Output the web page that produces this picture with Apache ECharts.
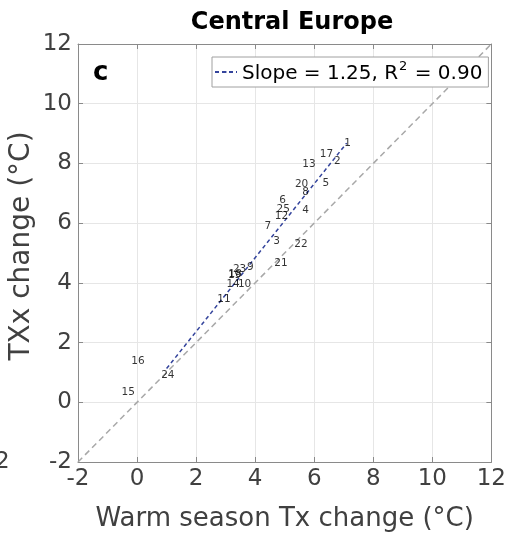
<!DOCTYPE html>
<html>
<head>
<meta charset="utf-8">
<script src="https://cdn.jsdelivr.net/npm/echarts@6/dist/echarts.min.js"></script>
<style>html,body{margin:0;padding:0;background:#fff;}#c{width:509px;height:542px;}</style>
</head>
<body>
<div id="c"></div>
<script>
// Region ids and their values
const regionIds = [1,2,3,4,5,6,7,8,9,10,11,12,13,14,15,16,17,18,19,20,21,22,23,24,25];
const warmTxChange = [7.00,6.65,4.60,5.58,6.26,4.80,4.30,5.58,3.71,3.40,2.70,4.65,5.58,3.01,-0.54,-0.21,6.17,3.08,3.06,5.33,4.63,5.31,3.23,0.80,4.71];
const txxChange    = [8.66,8.08,5.40,6.44,7.34,6.77,5.88,7.04,4.52,3.95,3.46,6.22,7.96,3.95,0.33,1.36,8.32,4.28,4.24,7.31,4.66,5.30,4.46,0.90,6.45];
// Regression line endpoints and 1:1 line endpoints
const fitX = [1.0, 7.1];
const fitY = [1.13, 8.68];
const oneToOneX = [-2, 12];
const oneToOneY = [-2, 12];
const axisTicks = [-2, 0, 2, 4, 6, 8, 10, 12];
const titleText = 'Central Europe';
const xName = 'Warm season Tx change (°C)';
const yName = 'TXx change (°C)';

const FONT = 'DejaVu Sans';
const chart = echarts.init(document.getElementById('c'), null, {renderer: 'canvas'});

const pts = regionIds.map((id, i) => [warmTxChange[i], txxChange[i], id]);
const axisCommon = {
  type: 'value', min: axisTicks[0], max: axisTicks[axisTicks.length-1], interval: 2,
  axisLine: {show: true, onZero: false, lineStyle: {color: '#8a8a8a', width: 1}},
  axisTick: {show: true, inside: true, length: 5, lineStyle: {color: '#8a8a8a'}},
};

chart.setOption({
  animation: false,
  backgroundColor: '#fff',
  title: {
    text: titleText, left: 287, top: 6, textAlign: 'center',
    textStyle: {fontFamily: FONT, fontSize: 24, fontWeight: 'bold', color: '#000'}
  },
  grid: {left: 78, top: 44, width: 417, height: 418, containLabel: false},
  xAxis: [
    Object.assign({}, axisCommon, {
      position: 'bottom',
      name: xName, nameLocation: 'middle', nameGap: 44,
      nameTextStyle: {fontFamily: FONT, fontSize: 26, color: '#404040'},
      axisLabel: {fontFamily: FONT, fontSize: 23, color: '#404040', margin: 6},
      splitLine: {show: true, lineStyle: {color: '#e6e6e6', width: 1}}
    }),
    Object.assign({}, axisCommon, {
      position: 'top', axisLabel: {show: false}, splitLine: {show: false}
    })
  ],
  yAxis: [
    Object.assign({}, axisCommon, {
      position: 'left',
      axisLabel: {fontFamily: FONT, fontSize: 23, color: '#404040', margin: 6},
      splitLine: {show: true, lineStyle: {color: '#e6e6e6', width: 1}}
    }),
    Object.assign({}, axisCommon, {
      position: 'right', axisLabel: {show: false}, splitLine: {show: false}
    })
  ],
  legend: {
    show: true,
    data: ['fit'],
    left: 212, top: 57,
    itemWidth: 22, itemHeight: 2, itemGap: 0,
    padding: [3, 6, 3, 2],
    backgroundColor: '#fff',
    borderColor: '#a0a0a0', borderWidth: 1, borderRadius: 0,
    formatter: () => '{a|Slope = 1.25, R}{s|2}{a| = 0.90}',
    textStyle: {
      fontFamily: FONT, color: '#000', padding: [0, 0, 0, 0],
      rich: {
        a: {fontFamily: FONT, fontSize: 20, color: '#000', lineHeight: 24, verticalAlign: 'bottom'},
        s: {fontFamily: FONT, fontSize: 13, color: '#000', lineHeight: 24, verticalAlign: 'top', padding: [0, 1, 8, 1]}
      }
    }
  },
  graphic: [
    {type: 'text', left: 93, top: 60, style: {text: 'c', font: '900 26px "DejaVu Sans"', fill: '#000'}, z: 50},
    {type: 'text', x: 22, y: 246, rotation: Math.PI/2,
      style: {text: yName, font: '28px "DejaVu Sans"', fill: '#404040', align: 'center', verticalAlign: 'middle'}},
    {type: 'text', x: -5, y: 462, style: {text: '2', font: '23px "DejaVu Sans"', fill: '#404040', align: 'left', verticalAlign: 'middle'}}
  ],
  series: [
    {
      name: 'oneToOne', type: 'line', xAxisIndex: 0, yAxisIndex: 0,
      data: oneToOneX.map((x, i) => [x, oneToOneY[i]]),
      showSymbol: false, symbol: 'none', silent: true,
      lineStyle: {color: '#a8a8a8', width: 1.5, type: [6, 4]}, z: 2
    },
    {
      name: 'fit', type: 'line', xAxisIndex: 0, yAxisIndex: 0,
      data: fitX.map((x, i) => [x, fitY[i]]),
      symbol: 'none', showSymbol: false,
      itemStyle: {color: '#34449c'},
      lineStyle: {color: '#34449c', width: 1.5, type: [4, 3]}, z: 3
    },
    {
      name: 'regions', type: 'scatter', xAxisIndex: 0, yAxisIndex: 0,
      data: pts, symbolSize: 1,
      itemStyle: {color: 'rgba(0,0,0,0)'},
      label: {
        show: true, position: 'right', distance: 0,
        formatter: p => String(p.value[2]),
        fontFamily: FONT, fontSize: 10.5, color: '#000'
      },
      labelLayout: {hideOverlap: false}, z: 5
    }
  ]
});
</script>
</body>
</html>
